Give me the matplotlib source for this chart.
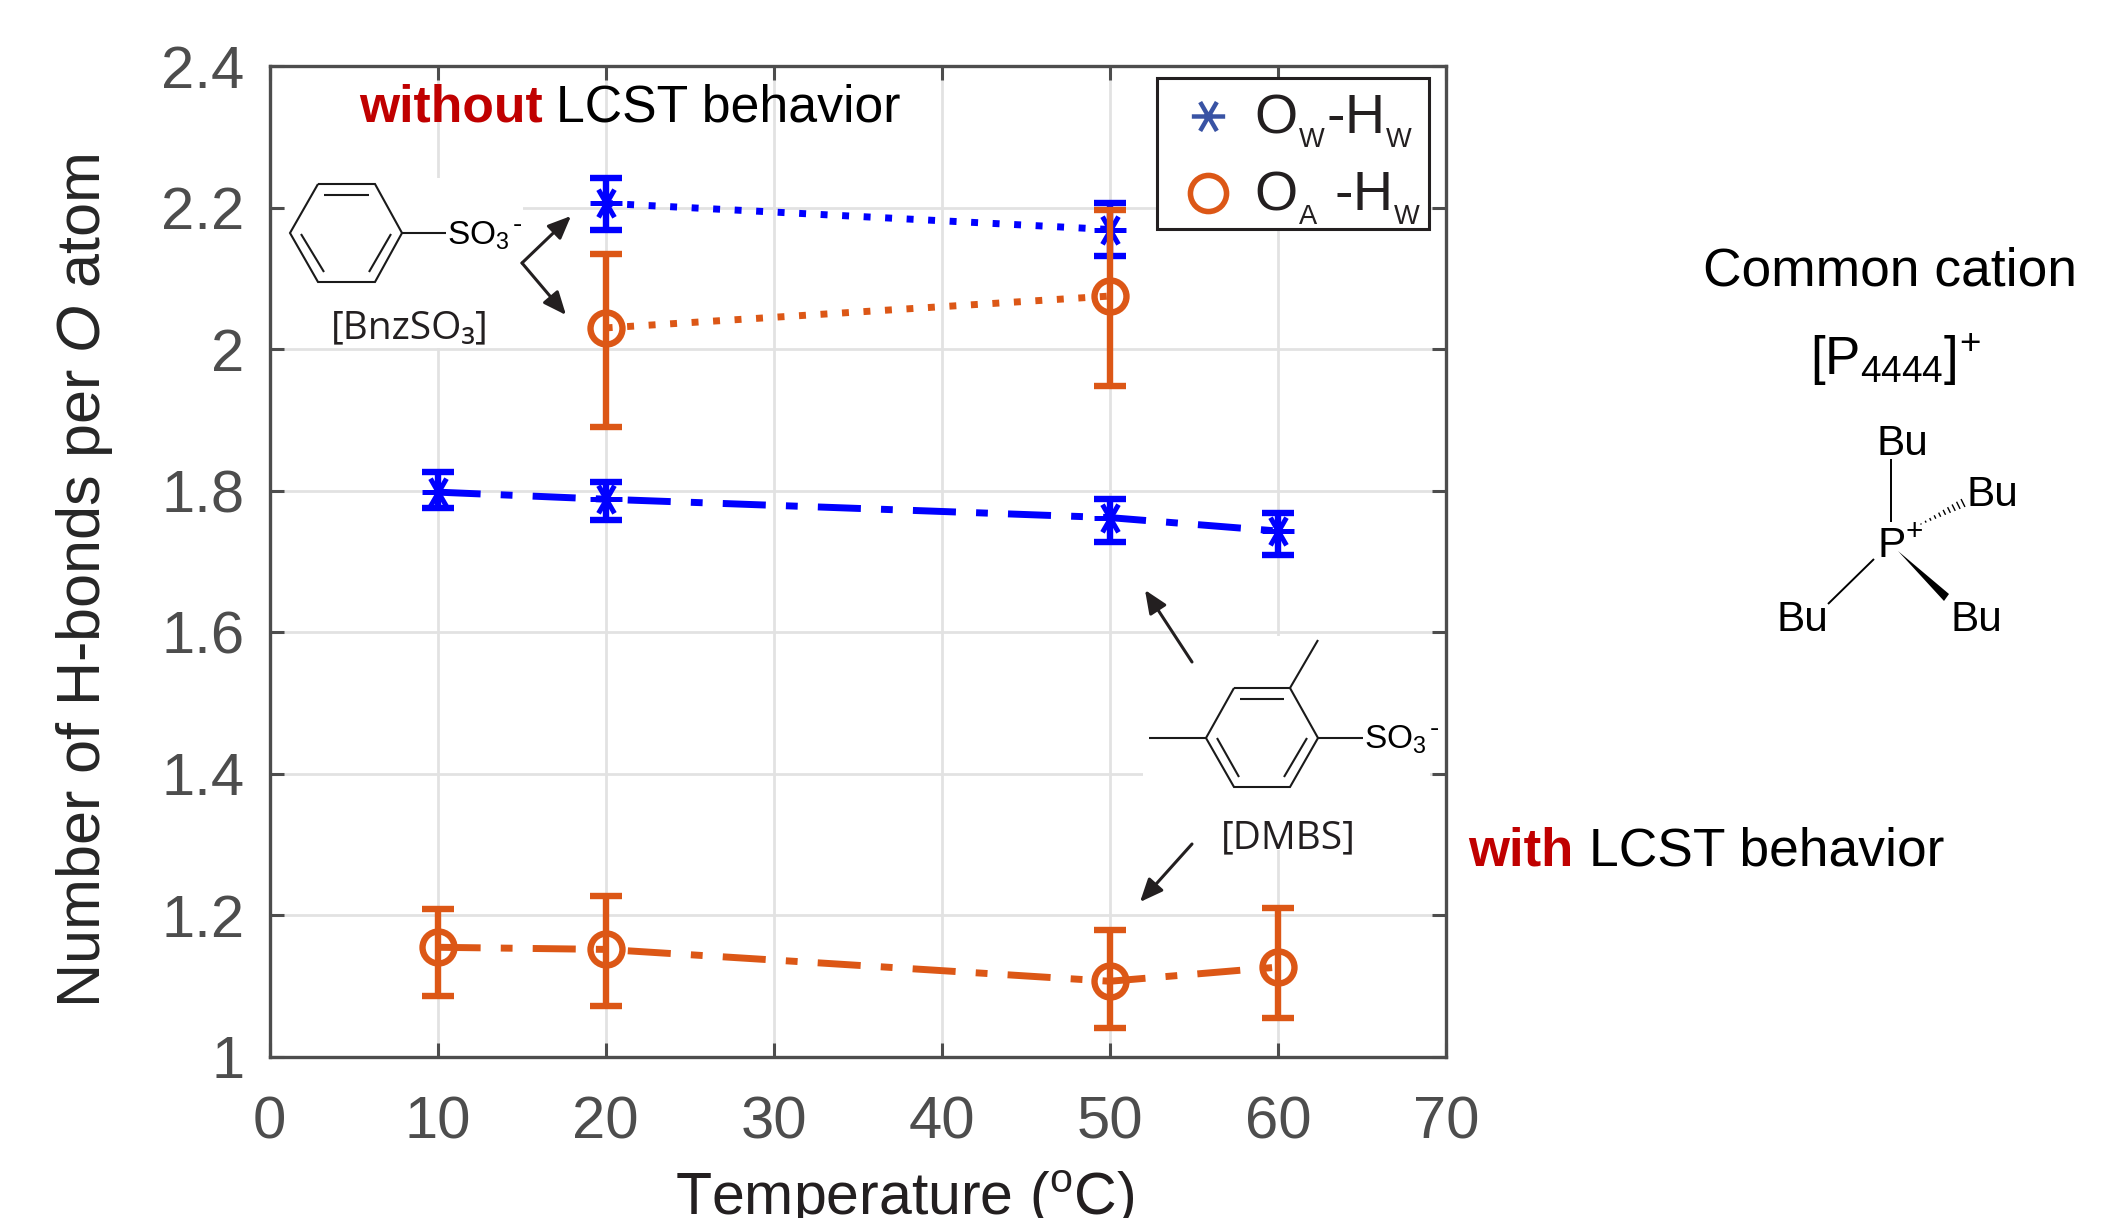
import matplotlib
matplotlib.use('Agg')
from matplotlib import pyplot as plt
from matplotlib.lines import Line2D
from matplotlib.patches import Polygon, Rectangle, FancyArrowPatch
from matplotlib.path import Path
from matplotlib.transforms import Affine2D
import numpy as np

plt.rcParams['font.family'] = ['Liberation Sans', 'DejaVu Sans']
plt.rcParams['mathtext.fontset'] = 'custom'
plt.rcParams['mathtext.rm'] = 'Liberation Sans'
plt.rcParams['mathtext.it'] = 'Liberation Sans:italic'
plt.rcParams['mathtext.bf'] = 'Liberation Sans:bold'
plt.rcParams['mathtext.default'] = 'regular'

# data
temp_bnz = [20, 50]
temp_dmbs = [10, 20, 50, 60]

ow_bnz = [2.206, 2.169]
ow_bnz_low = [2.168, 2.131]
ow_bnz_high = [2.242, 2.207]

oa_bnz = [2.030, 2.075]
oa_bnz_low = [1.890, 1.948]
oa_bnz_high = [2.135, 2.196]

ow_dmbs = [1.798, 1.788, 1.762, 1.743]
ow_dmbs_low = [1.775, 1.758, 1.727, 1.709]
ow_dmbs_high = [1.826, 1.813, 1.788, 1.768]

oa_dmbs = [1.155, 1.152, 1.107, 1.127]
oa_dmbs_low = [1.086, 1.072, 1.041, 1.055]
oa_dmbs_high = [1.209, 1.228, 1.180, 1.210]

x_ticks = [0, 10, 20, 30, 40, 50, 60, 70]
y_ticks = [1, 1.2, 1.4, 1.6, 1.8, 2, 2.2, 2.4]
y_tick_labels = ['1', '1.2', '1.4', '1.6', '1.8', '2', '2.2', '2.4']

# colours
BLUE = '#0000ff'
ORANGE = '#dc5716'
LEG_BLUE = '#3953a4'
RED = '#c00000'
AXIS = '#4d4d4d'
INK = '#231f20'

W, H = 2120, 1218
fig = plt.figure(figsize=(W/100, H/100), dpi=100, facecolor='white')
ax = fig.add_axes([269.5/W, 1-1057/H, (1446-269.5)/W, (1057-66)/H])
# pixel coordinates of the picture, for the drawn-in molecules and notes
px = Affine2D().scale(1/W, -1/H).translate(0, 1) + fig.transFigure

DASHDOT = (0, (6.2, 2.9, 1.7, 2.9))
DOTTED = (0, (1, 2.1))

# six armed star, one arm pair lying flat
sin60 = np.sqrt(3)/2
STAR = Path([(-1, 0), (1, 0), (-0.5, -sin60), (0.5, sin60), (-0.5, sin60), (0.5, -sin60)],
            [Path.MOVETO, Path.LINETO]*3)


def draw_series(x, y, low, high, color, marker, style):
    y = np.array(y)
    yerr = [y-np.array(low), np.array(high)-y]
    ax.errorbar(x, y, yerr=yerr, color=color, ecolor=color, elinewidth=4.6,
                capsize=11.5, capthick=4.6, linestyle='none', zorder=3)
    ax.plot(x, y, color=color, linestyle=style, linewidth=5,
            dash_capstyle='butt', zorder=3)
    ax.plot(x, y, color=color, linestyle='none', marker=marker, markersize=23,
            markerfacecolor='none', markeredgecolor=color,
            markeredgewidth=3.6 if marker is STAR else 4.6, zorder=3)


draw_series(temp_bnz, ow_bnz, ow_bnz_low, ow_bnz_high, BLUE, STAR, DOTTED)
draw_series(temp_bnz, oa_bnz, oa_bnz_low, oa_bnz_high, ORANGE, 'o', DOTTED)
draw_series(temp_dmbs, ow_dmbs, ow_dmbs_low, ow_dmbs_high, BLUE, STAR, DASHDOT)
draw_series(temp_dmbs, oa_dmbs, oa_dmbs_low, oa_dmbs_high, ORANGE, 'o', DASHDOT)

ax.set_xlim(0, 70)
ax.set_ylim(1, 2.4)
ax.set_xticks(x_ticks)
ax.set_yticks(y_ticks)
ax.set_yticklabels(y_tick_labels)
ax.set_axisbelow(True)
ax.grid(True, color='#e2e2e2', linewidth=2)
ax.tick_params(axis='both', which='major', direction='in', length=10, width=2.2,
               color=AXIS, labelcolor=AXIS, labelsize=43, top=True, right=True)
ax.tick_params(axis='x', pad=28)
ax.tick_params(axis='y', pad=18)
for s in ax.spines.values():
    s.set_color(AXIS)
    s.set_linewidth(2.4)

# the molecules sit on white boxes that cut the grid
ax.add_patch(Rectangle((285, 178), 238, 170, transform=px, facecolor='white',
                       edgecolor='none', zorder=1))
ax.add_patch(Rectangle((1143, 636), 287, 214, transform=px, facecolor='white',
                       edgecolor='none', zorder=1))

fig.text(85, 581, r'Number of H-bonds per $\mathit{O}$ atom', transform=px, rotation=90,
         fontsize=44, color='#262626', ha='center', va='center')
fig.text(905, 1215, 'Temperature ($^{o}$C)', transform=px, fontsize=42.5, color=INK,
         ha='center', va='baseline')

# legend
handles = [Line2D([], [], linestyle='none', marker=STAR, markersize=24, color=LEG_BLUE,
                  markerfacecolor='none', markeredgewidth=3.2),
           Line2D([], [], linestyle='none', marker='o', markersize=26, color=ORANGE,
                  markerfacecolor='none', markeredgewidth=4)]
leg = ax.legend(handles, [r'O$_{_{W}}$-H$_{_{W}}$', r'O$_{_{A}}$ -H$_{_{W}}$'],
                loc='upper right', bbox_to_anchor=(1429/W, 1-78/H),
                bbox_transform=fig.transFigure, fontsize=40, fancybox=False,
                framealpha=1, edgecolor=INK, borderpad=0.14, labelspacing=0.35,
                handletextpad=0.07, handlelength=1.53, borderaxespad=0)
leg.get_frame().set_linewidth(2.2)
leg.set_zorder(6)
for t in leg.get_texts():
    t.set_color(INK)
    t.set_y(-6)
for h in leg.legend_handles:
    h.set_ydata(np.array(h.get_ydata())-6)

# notes
fig.text(359, 122, 'without', transform=px, fontsize=37.2, color=RED, fontweight='bold')
fig.text(556, 122, 'LCST behavior', transform=px, fontsize=37.3, color='black')
fig.text(1468, 866, 'with', transform=px, fontsize=38, color=RED, fontweight='bold')
fig.text(1589, 866, 'LCST behavior', transform=px, fontsize=38.4, color='black')
fig.text(1703, 285, 'Common cation', transform=px, fontsize=38.4, color='black')
fig.text(1810, 375, r'[P$_{4444}$]$^{+}$', transform=px, fontsize=38, color='black')


def bond(*pts, lw=1.5, color='#1a1a1a'):
    xs, ys = zip(*pts)
    ax.add_line(Line2D(xs, ys, transform=px, color=color, linewidth=lw, clip_on=False,
                       zorder=4, solid_capstyle='butt', solid_joinstyle='miter'))


def arrow(start, end):
    ax.add_patch(FancyArrowPatch(start, end, transform=px, clip_on=False, zorder=4,
                                 arrowstyle='-|>,head_length=14,head_width=6',
                                 shrinkA=0, shrinkB=0, color=INK, linewidth=2.2,
                                 mutation_scale=1))


def so3(left, base):
    fig.text(left, base, 'SO$_{3}$', transform=px, fontsize=24, color='black')
    fig.text(left+66, base-13, '-', transform=px, fontsize=20, color='black')


# [BnzSO3]
bond((318, 184), (375, 184), (402, 233), (375, 282), (318, 282), (290, 233), (318, 184))
bond((324, 195), (369, 195))
bond((391, 234), (369, 272))
bond((301, 234), (324, 272))
bond((402, 233), (446, 233))
so3(447, 245)
fig.text(331, 338, '[BnzSO\u2083]', transform=px, fontsize=28, color=INK,
         family=['Open Sans', 'DejaVu Sans'])
arrow((522, 263), (571, 216))
arrow((522, 263), (566, 315))

# [DMBS]
bond((1234, 688), (1290, 688), (1318, 738), (1290, 787), (1234, 787), (1206, 738), (1234, 688))
bond((1240, 699), (1284, 699))
bond((1307, 738), (1284, 777))
bond((1217, 738), (1239, 777))
bond((1290, 688), (1318, 640))
bond((1206, 738), (1149, 738))
bond((1318, 738), (1363, 738))
so3(1364, 749)
fig.text(1221, 848, '[DMBS]', transform=px, fontsize=28, color=INK,
         family=['Open Sans', 'DejaVu Sans'])
arrow((1192, 662), (1145, 590))
arrow((1192, 844), (1140, 902))

# [P4444]+
for left, base in [(1876, 455), (1966, 506), (1776, 631), (1950, 631)]:
    fig.text(left, base, 'Bu', transform=px, fontsize=30.5, color='black')
fig.text(1877, 558, 'P$^{+}$', transform=px, fontsize=30.5, color='black')
bond((1891, 459), (1891, 522), lw=1.4, color='black')
bond((1874, 559), (1828, 604), lw=1.4, color='black')
ax.add_patch(Polygon([(1898, 551), (1949, 594), (1944, 601)], transform=px, facecolor='black',
                     edgecolor='none', clip_on=False, zorder=4))
for i, f in enumerate(np.linspace(0, 1, 10)):
    hx = 1921+f*(1963-1921)
    hy = 524+f*(503-524)
    half = 0.6+f*3.8
    bond((hx-half*0.45, hy-half*0.9), (hx+half*0.45, hy+half*0.9), lw=1, color='black')

fig.savefig('out.png', dpi=100, facecolor='white')
